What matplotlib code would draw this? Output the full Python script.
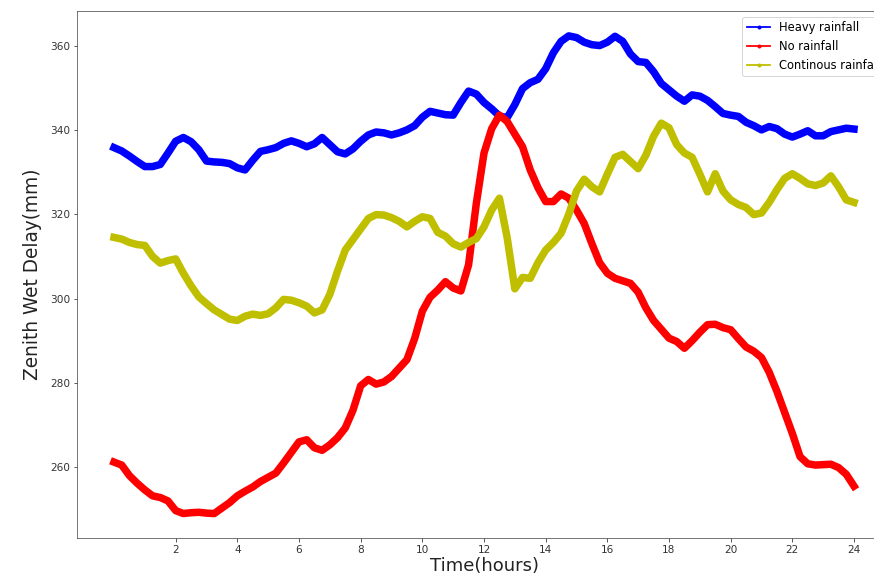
import numpy as np
import matplotlib
matplotlib.use("Agg")
import matplotlib.pyplot as plt

# time axis, every 15 minutes over one day
hours = np.arange(0, 24.01, 0.25)

heavy = [335.8, 335.0, 333.8, 332.5, 331.3, 331.3, 331.8, 334.5, 337.3, 338.2,
         337.2, 335.3, 332.6, 332.4, 332.3, 332.0, 331.0, 330.5, 332.8, 334.9,
         335.3, 335.8, 336.8, 337.4, 336.8, 336.0, 336.7, 338.2, 336.5, 334.8,
         334.3, 335.5, 337.3, 338.8, 339.5, 339.3, 338.8, 339.3, 340.0, 341.0,
         343.0, 344.4, 344.0, 343.6, 343.5, 346.5, 349.2, 348.5, 346.5, 345.0,
         343.3, 342.9, 346.0, 349.8, 351.2, 352.0, 354.5, 358.3, 361.0, 362.3,
         361.9, 360.8, 360.2, 360.0, 360.8, 362.2, 361.0, 358.0, 356.2, 356.0,
         353.8, 351.0, 349.5, 348.0, 346.8, 348.3, 348.0, 347.0, 345.5, 343.9,
         343.5, 343.2, 341.8, 341.0, 340.0, 340.8, 340.3, 339.0, 338.3, 339.0,
         339.8, 338.6, 338.6, 339.6, 340.0, 340.4, 340.2]

no_rain = [261.2, 260.5, 258.0, 256.2, 254.6, 253.2, 252.8, 252.0, 249.7, 249.0,
           249.2, 249.3, 249.1, 249.0, 250.3, 251.6, 253.2, 254.3, 255.3, 256.6,
           257.6, 258.6, 261.0, 263.5, 266.0, 266.5, 264.6, 264.0, 265.3, 267.0,
           269.3, 273.5, 279.3, 280.8, 279.7, 280.2, 281.5, 283.5, 285.5, 290.5,
           297.0, 300.3, 302.0, 304.0, 302.5, 301.8, 308.0, 322.5, 334.5, 340.3,
           343.5, 342.0, 339.0, 336.0, 330.5, 326.3, 323.0, 323.0, 324.8, 323.8,
           321.0, 317.8, 313.0, 308.5, 306.0, 304.8, 304.2, 303.6, 301.5, 297.8,
           294.8, 292.7, 290.6, 289.8, 288.2, 290.0, 292.0, 293.8, 293.9, 293.1,
           292.6, 290.5, 288.5, 287.5, 286.0, 282.5, 278.0, 273.0, 268.0, 262.5,
           260.8, 260.5, 260.6, 260.7, 259.9, 258.3, 255.5]

continuous = [314.5, 314.1, 313.3, 312.8, 312.6, 310.0, 308.4, 309.0, 309.4, 306.0,
              303.0, 300.4, 298.8, 297.3, 296.2, 295.1, 294.8, 295.8, 296.3, 296.0,
              296.4, 297.8, 299.8, 299.6, 299.0, 298.2, 296.6, 297.3, 301.0, 306.5,
              311.5, 314.0, 316.5, 319.0, 319.9, 319.8, 319.2, 318.3, 317.0, 318.3,
              319.4, 319.0, 315.7, 314.8, 313.0, 312.2, 313.3, 314.2, 317.0, 321.0,
              323.8, 314.5, 302.3, 305.0, 304.8, 308.5, 311.5, 313.3, 315.5, 320.0,
              325.5, 328.3, 326.5, 325.3, 329.5, 333.5, 334.2, 332.5, 330.8, 334.0,
              338.5, 341.6, 340.5, 336.5, 334.5, 333.5, 329.5, 325.3, 329.6, 325.5,
              323.4, 322.3, 321.6, 319.9, 320.3, 322.8, 325.8, 328.5, 329.6, 328.5,
              327.2, 326.8, 327.4, 329.1, 326.5, 323.4, 322.8]

xticks = list(range(2, 25, 2))

fig = plt.figure(figsize=(874 / 72, 583 / 72), dpi=72)
# axes run past the right edge like the cropped original
ax = fig.add_axes([77 / 874, 45 / 583, 814 / 874, 527 / 583])

ax.plot(hours, heavy, '.-', color='b', lw=7.5, label='Heavy rainfall')
ax.plot(hours, no_rain, '.-', color='r', lw=7.5, label='No rainfall')
ax.plot(hours, continuous, '.-', color='y', lw=7.5, label='Continous rainfall')

ax.set_xlim(-1.2, 25.2)
ax.set_ylim(243.2, 368.2)
ax.set_xticks(xticks)
ax.set_xlabel('Time(hours)', fontsize=18, color='#222222', labelpad=2)
ax.set_ylabel('Zenith Wet Delay(mm)', fontsize=18.5, color='#222222', labelpad=8)
ax.tick_params(labelsize=10.5, colors='#333333')
for s in ax.spines.values():
    s.set_color('#555555')

leg = ax.legend(loc='upper right', fontsize=11.5)
for h in leg.get_lines():
    h.set_linewidth(1.8)

fig.savefig('out.png', dpi=72)
